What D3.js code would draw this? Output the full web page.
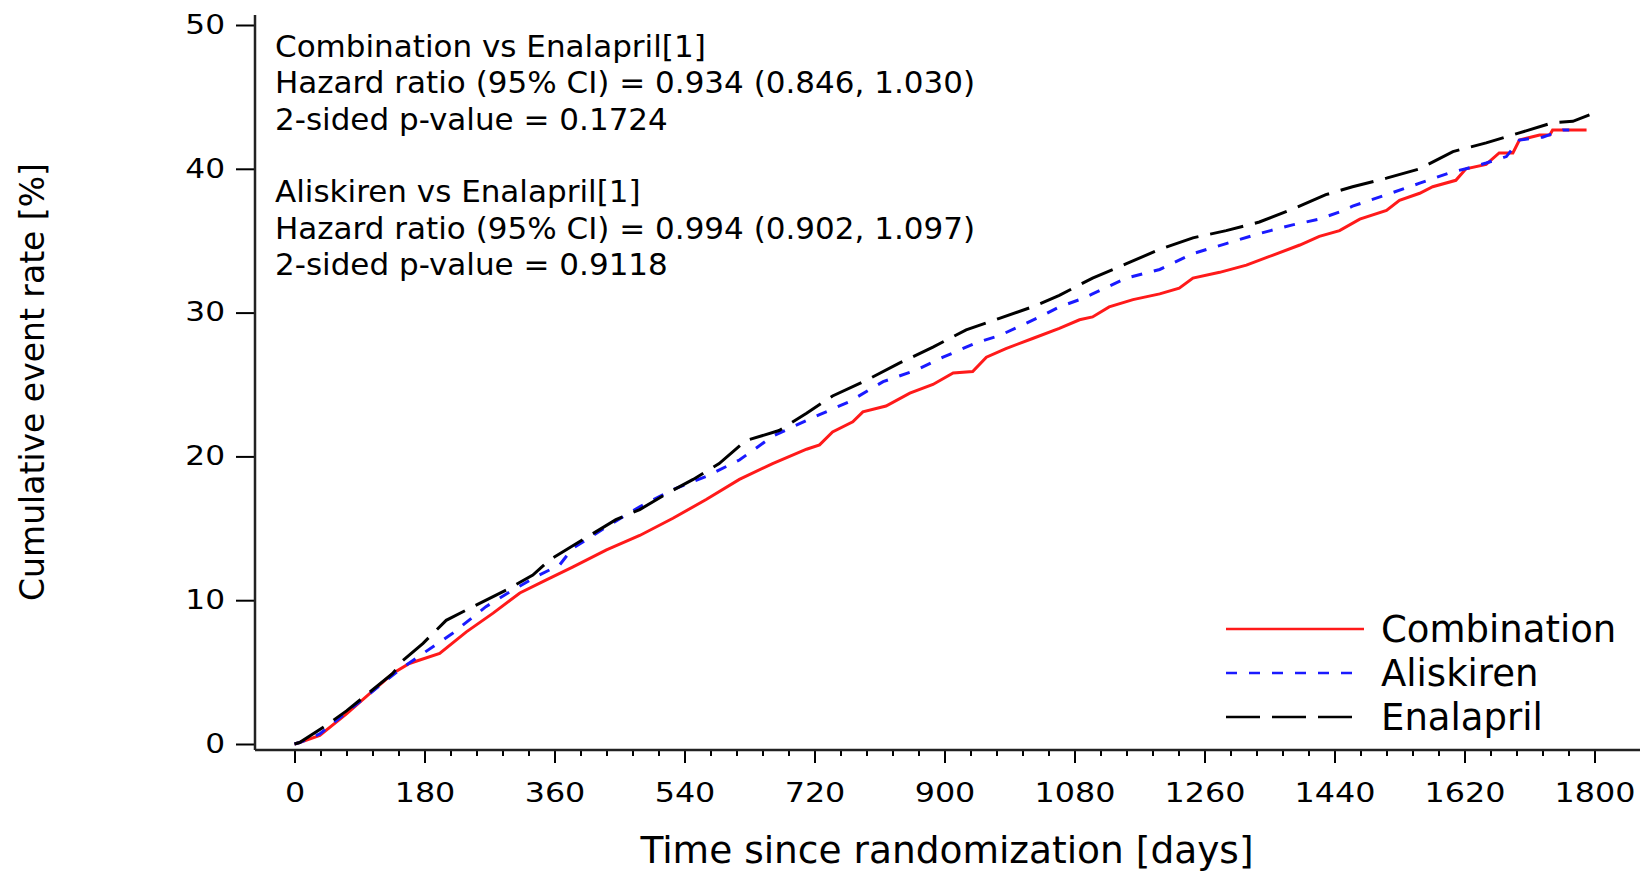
<!DOCTYPE html>
<html lang="en">

<head>
  <meta charset="utf-8">
  <title>Cumulative event rate</title>
  <script src="https://d3js.org/d3.v7.min.js"></script>
</head>

<body style="margin:0;background:#fff">
  <div id="chart"></div>

  <style>
    #chart text {
      font-family: "DejaVu Sans", sans-serif;
      fill: #000;
    }
  </style>

  <script type="text/javascript">
    "use strict"

    // Combination (red, solid)
    var combDias = [0, 7, 35, 72, 104, 136, 159, 201, 238, 275, 312, 348, 385, 432, 478, 524, 570, 616, 662, 709, 727, 745, 773, 787, 819, 852, 884, 912, 939, 958, 985, 1022, 1059, 1087, 1105, 1128, 1161, 1198, 1225, 1244, 1281, 1318, 1355, 1392, 1419, 1447, 1475, 1512, 1530, 1558, 1576, 1608, 1622, 1650, 1668, 1687, 1696, 1724, 1738, 1742, 1789];
    var combTaxa = [0, 0.1, 0.6, 2.1, 3.5, 4.9, 5.6, 6.3, 7.8, 9.1, 10.5, 11.4, 12.3, 13.5, 14.5, 15.7, 17.0, 18.4, 19.5, 20.5, 20.8, 21.7, 22.4, 23.1, 23.5, 24.4, 25.0, 25.8, 25.9, 26.9, 27.5, 28.2, 28.9, 29.5, 29.7, 30.4, 30.9, 31.3, 31.7, 32.4, 32.8, 33.3, 34.0, 34.7, 35.3, 35.7, 36.5, 37.1, 37.8, 38.3, 38.75, 39.2, 40.0, 40.3, 41.1, 41.1, 42.0, 42.35, 42.35, 42.7, 42.7];

    // Aliskiren (blue, short dash)
    var aliDias = [0, 7, 35, 72, 104, 145, 178, 219, 265, 302, 339, 367, 385, 432, 478, 524, 570, 616, 662, 709, 727, 768, 815, 861, 898, 944, 976, 1032, 1059, 1087, 1105, 1152, 1198, 1244, 1290, 1336, 1382, 1419, 1447, 1465, 1512, 1558, 1604, 1622, 1650, 1678, 1696, 1728, 1756, 1765];
    var aliTaxa = [0, 0.1, 0.7, 2.2, 3.5, 5.15, 6.3, 7.7, 9.55, 10.7, 11.75, 12.45, 13.6, 15.1, 16.5, 17.7, 18.6, 19.75, 21.4, 22.5, 22.9, 23.8, 25.2, 26.0, 26.9, 27.9, 28.4, 29.7, 30.4, 30.9, 31.3, 32.4, 33.0, 34.1, 34.8, 35.5, 36.1, 36.5, 37.0, 37.4, 38.2, 39.0, 39.8, 40.0, 40.4, 40.85, 42.0, 42.2, 42.7, 42.7];

    // Enalapril (black, long dash)
    var enaDias = [0, 7, 44, 72, 104, 136, 150, 178, 210, 247, 293, 330, 353, 399, 445, 478, 515, 552, 588, 625, 671, 709, 745, 792, 838, 884, 930, 976, 1022, 1059, 1105, 1152, 1198, 1244, 1290, 1336, 1382, 1428, 1465, 1512, 1558, 1604, 1650, 1696, 1742, 1770, 1793];
    var enaTaxa = [0, 0.1, 1.3, 2.3, 3.6, 4.9, 5.8, 7.0, 8.6, 9.55, 10.7, 11.75, 12.8, 14.2, 15.6, 16.3, 17.4, 18.4, 19.5, 21.1, 21.8, 23.0, 24.2, 25.3, 26.5, 27.6, 28.8, 29.6, 30.4, 31.2, 32.4, 33.4, 34.4, 35.2, 35.7, 36.3, 37.2, 38.2, 38.75, 39.35, 40.0, 41.2, 41.8, 42.5, 43.2, 43.3, 43.75];

    var ticksX = [0, 180, 360, 540, 720, 900, 1080, 1260, 1440, 1620, 1800];
    var ticksY = [0, 10, 20, 30, 40, 50];

    var textoAnot = [
      "Combination vs Enalapril[1]",
      "Hazard ratio (95% CI) = 0.934 (0.846, 1.030)",
      "2-sided p-value = 0.1724",
      "",
      "Aliskiren vs Enalapril[1]",
      "Hazard ratio (95% CI) = 0.994 (0.902, 1.097)",
      "2-sided p-value = 0.9118"
    ];

    var series = [
      {nome: "Combination", dias: combDias, taxas: combTaxa, cor: "#ff1a1a", traco: null},
      {nome: "Aliskiren", dias: aliDias, taxas: aliTaxa, cor: "#1a1aff", traco: "11,12"},
      {nome: "Enalapril", dias: enaDias, taxas: enaTaxa, cor: "#000000", traco: "34,12"}
    ];

    function desenha() {
      var larguraSVG = 1640, alturaSVG = 872;
      var eixoX = 255, eixoY = 750; // posicao das linhas dos eixos
      var esticar = 1.2; // os numeros dos eixos sao mais largos no original

      var svg = d3.select('#chart')
        .append('svg')
          .attr('width', larguraSVG)
          .attr('height', alturaSVG);

      var x = d3.scaleLinear().domain([0, 1800]).range([294.5, 1594.5]);
      var y = d3.scaleLinear().domain([0, 50]).range([744, 25]);

      // eixo x: ticks maiores, menores a cada 36 dias
      var gx = svg.append('g')
        .attr('transform', 'translate(0,' + eixoY + ')');
      gx.call(d3.axisBottom(x).tickValues(d3.range(0, 1801, 36)).tickSize(6).tickFormat(''))
        .select('.domain').remove();
      var gx2 = svg.append('g')
        .attr('transform', 'translate(0,' + eixoY + ')');
      gx2.call(d3.axisBottom(x).tickValues(ticksX).tickSize(13).tickPadding(20).tickFormat(d3.format('d')))
        .select('.domain').remove();
      gx2.selectAll('text')
        .style('font-size', '26.5px')
        .attr('transform', 'scale(' + esticar + ',1)');
      svg.selectAll('.tick line').attr('stroke', '#000').attr('stroke-width', 2);
      svg.append('line')
        .attr('x1', eixoX).attr('x2', larguraSVG)
        .attr('y1', eixoY).attr('y2', eixoY)
        .attr('stroke', '#222').attr('stroke-width', 2.5);

      // eixo y
      var gy = svg.append('g')
        .attr('transform', 'translate(' + eixoX + ',0)');
      gy.call(d3.axisLeft(y).tickValues(ticksY).tickSize(19))
        .select('.domain').remove();
      gy.selectAll('text')
        .style('font-size', '26px')
        .attr('x', -30 / esticar)
        .attr('transform', 'scale(' + esticar + ',1)');
      gy.selectAll('.tick line').attr('stroke', '#000').attr('stroke-width', 2);
      svg.append('line')
        .attr('x1', eixoX).attr('x2', eixoX)
        .attr('y1', 15).attr('y2', eixoY)
        .attr('stroke', '#222').attr('stroke-width', 2.5);

      // curvas
      var linha = d3.line()
        .x(d => x(d[0]))
        .y(d => y(d[1]));

      series.forEach(function(s) {
        svg.append('path')
          .datum(s.dias.map((d, i) => [d, s.taxas[i]]))
          .attr('d', linha)
          .attr('fill', 'none')
          .attr('stroke', s.cor)
          .attr('stroke-width', 3)
          .attr('stroke-dasharray', s.traco);
      });

      // legenda
      var leg = svg.append('g');
      series.forEach(function(s, i) {
        var ly = 629 + i * 44;
        leg.append('line')
          .attr('x1', 1226).attr('x2', s.traco ? 1352 : 1364)
          .attr('y1', ly).attr('y2', ly)
          .attr('stroke', s.cor)
          .attr('stroke-width', 2.5)
          .attr('stroke-dasharray', s.traco);
        leg.append('text')
          .attr('x', 1381)
          .attr('y', ly + 13)
          .style('font-size', '37px')
          .text(s.nome);
      });

      // texto de anotacao
      svg.append('g').selectAll('text')
        .data(textoAnot)
        .enter()
        .append('text')
          .attr('x', 275)
          .attr('y', (d, i) => 57 + i * 36.3)
          .style('font-size', '31px')
          .text(d => d);

      // titulos dos eixos
      svg.append('text')
        .attr('x', 947)
        .attr('y', 863)
        .attr('text-anchor', 'middle')
        .style('font-size', '37.5px')
        .text('Time since randomization [days]');

      svg.append('text')
        .attr('transform', 'translate(44,382) rotate(-90)')
        .attr('text-anchor', 'middle')
        .style('font-size', '33px')
        .text('Cumulative event rate [%]');
    }

    desenha();
  </script>
</body>

</html>
